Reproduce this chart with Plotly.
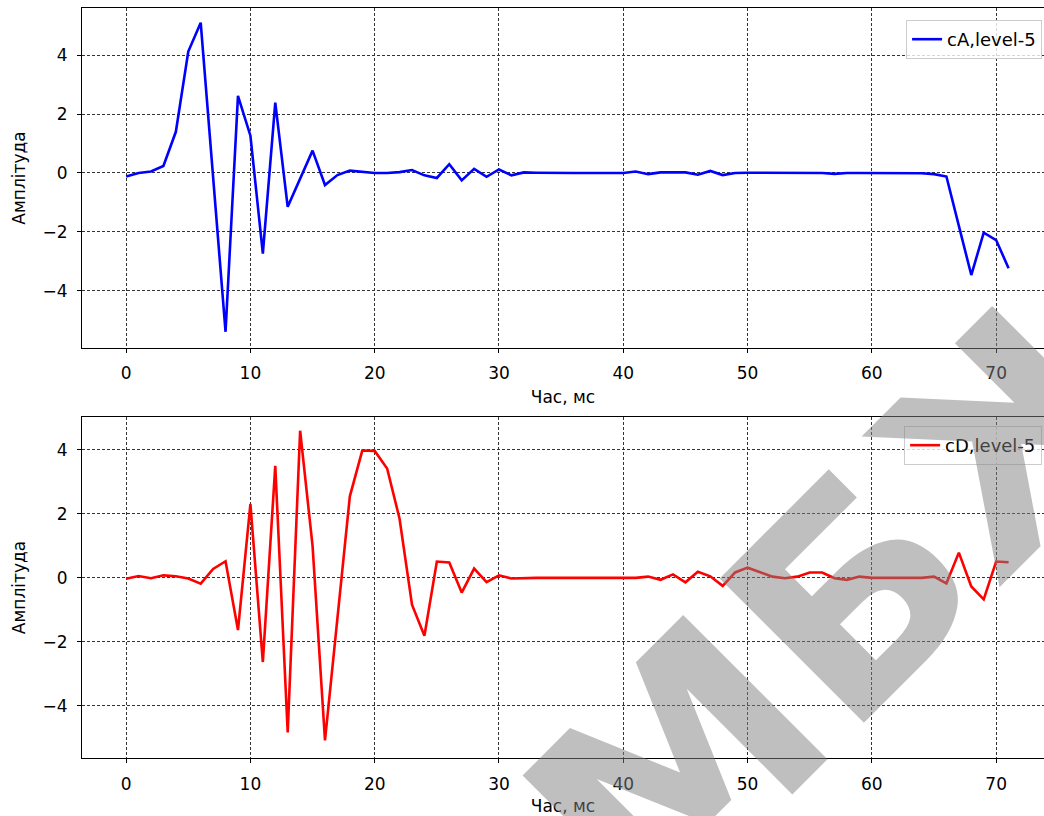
import plotly.graph_objects as go

# ---- data ----
t = list(range(72))

cA = [-0.12, 0.0, 0.05, 0.24, 1.4, 4.13, 5.11, -0.3, -5.4, 2.62,
      1.27, -2.74, 2.39, -1.15, -0.2, 0.76, -0.41, -0.07, 0.08, 0.03,
      0.0, 0.0, 0.03, 0.1, -0.08, -0.17, 0.3, -0.25, 0.14, -0.13,
      0.12, -0.08, 0.02, 0.01, 0.0, 0.0, 0.0, 0.0, 0.0, 0.0,
      0.0, 0.05, -0.04, 0.02, 0.02, 0.02, -0.06, 0.07, -0.07, 0.0,
      0.01, 0.01, 0.0, 0.0, 0.0, 0.0, 0.0, -0.03, 0.0, 0.0,
      0.0, 0.0, 0.0, 0.0, -0.01, -0.04, -0.12, -1.8, -3.47, -2.03,
      -2.28, -3.24]

cD = [-0.03, 0.06, -0.01, 0.08, 0.05, -0.02, -0.18, 0.28, 0.52, -1.63,
      2.31, -2.63, 3.5, -4.83, 4.6, 1.0, -5.08, -1.2, 2.55, 3.98,
      3.97, 3.42, 1.85, -0.84, -1.81, 0.51, 0.48, -0.46, 0.29, -0.13,
      0.08, -0.02, 0.0, 0.0, 0.0, 0.0, 0.0, 0.0, 0.0, 0.0,
      0.0, 0.0, 0.04, -0.06, 0.11, -0.14, 0.19, 0.05, -0.25, 0.17,
      0.32, 0.18, 0.04, -0.01, 0.04, 0.17, 0.17, -0.01, -0.06, 0.04,
      0.0, 0.0, 0.0, 0.0, 0.0, 0.04, -0.17, 0.79, -0.27, -0.67,
      0.51, 0.49]

x_ticks = [0, 10, 20, 30, 40, 50, 60, 70]
y_ticks = [-4, -2, 0, 2, 4]
series_names = ["cA,level-5", "cD,level-5"]
x_title = "Час, мс"
y_title = "Амплітуда"
watermark = "МБЖ"

FONT = "DejaVu Sans"
FS = 17

fig = go.Figure()
fig.add_trace(go.Scatter(x=t, y=cA, mode="lines", name=series_names[0],
                         line=dict(color="#0000ff", width=2.6), showlegend=True,
                         xaxis="x", yaxis="y", legend="legend"))
fig.add_trace(go.Scatter(x=t, y=cD, mode="lines", name=series_names[1],
                         line=dict(color="#ff0000", width=2.6), showlegend=True,
                         xaxis="x2", yaxis="y2", legend="legend2"))

common = dict(showline=True, linecolor="black", linewidth=1.2,
              ticks="outside", ticklen=4, tickcolor="black", tickwidth=1,
              showgrid=True, gridcolor="#333333", gridwidth=0.8,
              griddash="3px,2px", zeroline=False,
              tickfont=dict(family=FONT, size=FS, color="black"))

xcommon = dict(common, range=[-3.55, 73.85], tickvals=x_ticks, mirror=True,
               ticklabelstandoff=6,
               title=dict(text=x_title, font=dict(family=FONT, size=FS, color="black"),
                          standoff=8))
ycommon = dict(common, tickvals=y_ticks, mirror=False, ticklabelstandoff=6,
               title=dict(text=y_title, font=dict(family=FONT, size=FS, color="black"),
                          standoff=12))

legcommon = dict(xanchor="right", x=0.998, yanchor="top",
                 bordercolor="#cccccc", borderwidth=1,
                 bgcolor="rgba(255,255,255,0.8)",
                 font=dict(family=FONT, size=18, color="black"))

fig.update_layout(
    width=1044, height=816,
    margin=dict(l=82, r=0, t=8, b=58),
    paper_bgcolor="white", plot_bgcolor="white",
    showlegend=True,
    xaxis=dict(xcommon, domain=[0, 1], anchor="y"),
    yaxis=dict(ycommon, domain=[0.5467, 1.0], anchor="x", range=[-5.95, 5.61]),
    xaxis2=dict(xcommon, domain=[0, 1], anchor="y2"),
    yaxis2=dict(ycommon, domain=[0.0, 0.4547], anchor="x2", range=[-5.63, 5.03]),
    legend=dict(legcommon, y=0.984),
    legend2=dict(legcommon, y=0.4427),
    annotations=[dict(text=watermark, xref="paper", yref="paper", x=0.825, y=0.245,
                      xanchor="center", yanchor="middle",
                      showarrow=False, textangle=-45,
                      font=dict(family=FONT, size=280, weight="bold",
                                color="rgba(128,128,128,0.5)"))],
)

fig.write_html("out.html", config={"displayModeBar": False},
               post_script="document.body.style.margin='0';")
